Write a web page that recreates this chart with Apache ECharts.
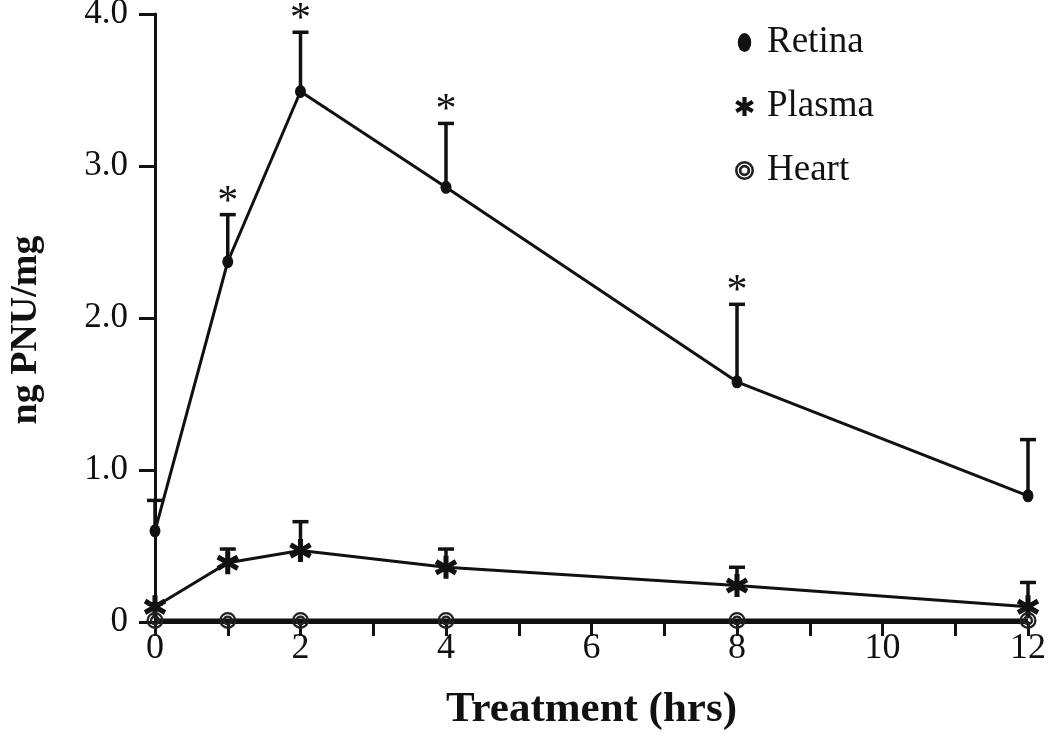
<!DOCTYPE html>
<html><head><meta charset="utf-8">
<script src="https://cdn.jsdelivr.net/npm/echarts@6/dist/echarts.min.js"></script>
<style>html,body{margin:0;padding:0;background:#fff}#c{width:1050px;height:752px}</style>
</head><body><div id="c"></div>
<script>
// ---- data ----
const hours = [0, 1, 2, 4, 8, 12];
const retinaMean = [0.60, 2.37, 3.49, 2.86, 1.58, 0.83];
const retinaErr  = [0.20, 0.31, 0.39, 0.42, 0.51, 0.37];
const retinaSig  = [false, true, true, true, true, false];
const plasmaMean = [0.10, 0.39, 0.47, 0.36, 0.24, 0.10];
const plasmaErr  = [0.02, 0.09, 0.19, 0.12, 0.12, 0.16];
const heartMean  = [0.01, 0.01, 0.01, 0.01, 0.01, 0.01];
const heartErr   = [0, 0, 0, 0, 0, 0];
const yTickLabels = ['0', '1.0', '2.0', '3.0', '4.0'];
const seriesNames = ['Retina', 'Plasma', 'Heart'];

const FONT = "'Liberation Serif', 'Times New Roman', serif";
const INK = '#111';

function asteriskPath(r, w) {
  let d = '';
  for (let k = 0; k < 6; k++) {
    const t = -Math.PI / 2 + k * Math.PI / 3;
    const ux = Math.cos(t), uy = Math.sin(t), nx = -uy, ny = ux;
    const a = [r * ux - w * nx + r, r * uy - w * ny + r];
    const b = [r * ux + w * nx + r, r * uy + w * ny + r];
    const t2 = t + Math.PI / 6;
    const c = [2 * w * Math.cos(t2) + r, 2 * w * Math.sin(t2) + r];
    d += (k === 0 ? 'M' : 'L') + a[0].toFixed(2) + ',' + a[1].toFixed(2) +
         'L' + b[0].toFixed(2) + ',' + b[1].toFixed(2) +
         'L' + c[0].toFixed(2) + ',' + c[1].toFixed(2);
  }
  return 'path://' + d + 'Z';
}
function ringPath() {
  const rs = [10, 7.3, 6.0, 3.1];
  let d = '';
  rs.forEach((r, i) => {
    const s = i % 2 === 0 ? 1 : 0;
    d += `M${10 - r},10A${r},${r},0,1,${s},${10 + r},10A${r},${r},0,1,${s},${10 - r},10Z`;
  });
  return 'path://' + d;
}
const ASTER = asteriskPath(10, 2.2);
const RING = ringPath();
const ELLIPSE = 'path://M6,0A6,8.5,0,1,1,6,17A6,8.5,0,1,1,6,0Z';

function errRender(sig) {
  return function (params, api) {
    const i = params.dataIndex;
    const x = api.value(0), y = api.value(1), e = api.value(2);
    const p0 = api.coord([x, y]);
    const p1 = api.coord([x, y + e]);
    const children = [];
    if (e > 0) {
      children.push({ type: 'line', shape: { x1: p0[0], y1: p0[1], x2: p1[0], y2: p1[1] },
        style: { stroke: INK, lineWidth: 3.5 } });
      children.push({ type: 'line', shape: { x1: p1[0] - 8, y1: p1[1], x2: p1[0] + 8, y2: p1[1] },
        style: { stroke: INK, lineWidth: 3.5 } });
    }
    if (sig && sig[i]) {
      children.push({ type: 'text', x: p1[0], y: p1[1] - 12,
        style: { text: '*', fontSize: 42, fontFamily: FONT, fill: INK, align: 'center', verticalAlign: 'middle' } });
    }
    return { type: 'group', children };
  };
}
function pairs(m) { return hours.map((h, i) => [h, m[i]]); }
function triples(m, e) { return hours.map((h, i) => [h, m[i], e[i]]); }

const chart = echarts.init(document.getElementById('c'), null, { renderer: 'canvas' });
chart.setOption({
  animation: false,
  backgroundColor: '#fff',
  grid: { left: 155, right: 22, top: 14, bottom: 130, containLabel: false, outerBoundsMode: 'none' },
  legend: {
    orient: 'vertical', left: 730, top: 19,
    itemWidth: 19, itemHeight: 19, itemGap: 27, symbolKeepAspect: true,
    textStyle: { fontFamily: FONT, fontSize: 37, color: INK, lineHeight: 36, padding: [0, 0, 0, 8] },
    data: [
      { name: seriesNames[0], icon: ELLIPSE, itemStyle: { color: INK } },
      { name: seriesNames[1], icon: ASTER, itemStyle: { color: INK } },
      { name: seriesNames[2], icon: RING, itemStyle: { color: '#222' } }
    ],
    selectedMode: false
  },
  xAxis: {
    type: 'value', min: 0, max: 12, interval: 2,
    name: 'Treatment (hrs)', nameLocation: 'middle', nameGap: 66,
    nameTextStyle: { fontFamily: FONT, fontSize: 43, fontWeight: 'bold', color: INK },
    axisLine: { show: true, onZero: true, lineStyle: { color: INK, width: 3 } },
    axisTick: { show: true, length: 14, lineStyle: { color: INK, width: 3 } },
    minorTick: { show: true, splitNumber: 2, length: 14, lineStyle: { color: INK, width: 3 } },
    axisLabel: { fontFamily: FONT, fontSize: 36, color: INK, margin: 9 },
    splitLine: { show: false }, minorSplitLine: { show: false }
  },
  yAxis: {
    type: 'value', min: 0, max: 4, interval: 1,
    name: 'ng PNU/mg', nameLocation: 'middle', nameGap: 110, nameRotate: 90,
    nameTextStyle: { fontFamily: FONT, fontSize: 38, fontWeight: 'bold', color: INK, padding: [0, 24, 0, 0] },
    axisLine: { show: true, onZero: true, lineStyle: { color: INK, width: 3 } },
    axisTick: { show: true, length: 16, lineStyle: { color: INK, width: 3 } },
    axisLabel: { fontFamily: FONT, fontSize: 35, color: INK, margin: 27,
      formatter: v => yTickLabels[Math.round(v)] },
    splitLine: { show: false }
  },
  series: [
    { name: 'errRetina', type: 'custom', renderItem: errRender(retinaSig), data: triples(retinaMean, retinaErr),
      encode: { x: 0, y: 1 }, z: 1, clip: false, silent: true },
    { name: 'errPlasma', type: 'custom', renderItem: errRender(null), data: triples(plasmaMean, plasmaErr),
      encode: { x: 0, y: 1 }, z: 1, clip: false, silent: true },
    { name: seriesNames[0], type: 'line', data: pairs(retinaMean), symbol: 'circle', symbolSize: [11, 13],
      itemStyle: { color: INK }, lineStyle: { color: INK, width: 3 }, z: 3 },
    { name: seriesNames[1], type: 'line', data: pairs(plasmaMean), symbol: ASTER, symbolSize: 23,
      symbolKeepAspect: true, itemStyle: { color: INK }, lineStyle: { color: INK, width: 3 }, z: 3 },
    { name: seriesNames[2], type: 'line', data: pairs(heartMean), symbol: RING, symbolSize: 17,
      itemStyle: { color: '#222' }, lineStyle: { color: INK, width: 4 }, z: 3 }
  ]
});
</script></body></html>
